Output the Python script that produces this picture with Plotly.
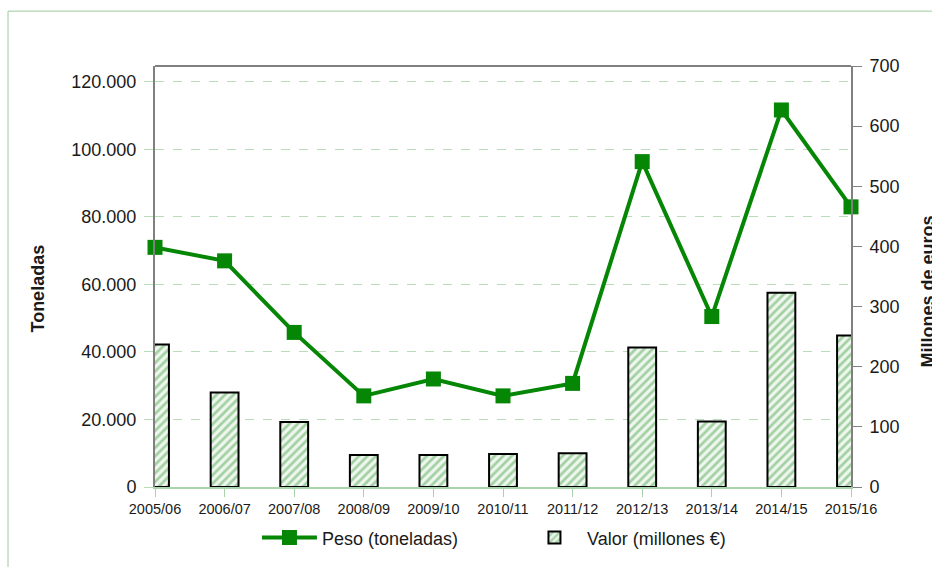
import plotly.graph_objects as go

categories = ["2005/06", "2006/07", "2007/08", "2008/09", "2009/10", "2010/11",
              "2011/12", "2012/13", "2013/14", "2014/15", "2015/16"]
peso_toneladas = [71000, 67000, 45800, 27000, 32000, 27000, 30700, 96400, 50500, 111700, 83000]
valor_millones = [237, 157, 108, 53, 53, 55, 56, 232, 109, 323, 252]

left_ticks = [0, 20000, 40000, 60000, 80000, 100000, 120000]
right_ticks = [0, 100, 200, 300, 400, 500, 600, 700]

GREEN = "#058605"
GRID = "#b9dcb9"
AXIS_GREY = "#808080"
TXT = "#1a1a1a"
FONT = "Liberation Sans, Arial, sans-serif"

fig = go.Figure()

fig.add_trace(go.Scatter(
    x=categories, y=peso_toneladas, name="Peso (toneladas)",
    mode="lines+markers", yaxis="y", cliponaxis=False,
    line=dict(color=GREEN, width=4),
    marker=dict(symbol="square", size=15, color=GREEN),
))

fig.add_trace(go.Bar(
    x=categories, y=valor_millones, name="Valor (millones €)",
    yaxis="y2", width=0.4,
    marker=dict(
        color="#e4f2e4",
        line=dict(color="black", width=2),
        pattern=dict(shape="/", fgcolor="#58aa58", bgcolor="#eef7ee", size=6, solidity=0.45),
    ),
))

fig.update_layout(
    width=932, height=567,
    margin=dict(l=155, r=81, t=66, b=79),
    paper_bgcolor="white", plot_bgcolor="white",
    separators=",.",
    font=dict(family=FONT, size=17, color=TXT),
    showlegend=True,
    legend=dict(orientation="h", x=0.1465, y=-0.118, xanchor="left", yanchor="middle",
                font=dict(size=18, color=TXT), entrywidth=195, entrywidthmode="pixels",
                traceorder="normal", itemwidth=55),
    xaxis=dict(
        type="category", range=[0, 10],
        showline=True, linecolor="#a9d3a9", linewidth=1.5,
        ticks="outside", ticklen=8, tickcolor="#a9d3a9",
        tickfont=dict(size=14.5, color=TXT), showgrid=False,
    ),
    yaxis=dict(
        range=[0, 124730], tickvals=left_ticks, tickformat=",d",
        showline=True, linecolor=AXIS_GREY, linewidth=2,
        ticks="outside", ticklen=9, tickcolor=GRID,
        showgrid=True, gridcolor=GRID, griddash="dash", gridwidth=1,
        zeroline=False, tickfont=dict(size=18, color=TXT), ticklabelstandoff=4,
    ),
    yaxis2=dict(
        range=[0, 700], tickvals=right_ticks, overlaying="y", side="right",
        showline=True, linecolor=AXIS_GREY, linewidth=2,
        ticks="outside", ticklen=9, tickcolor=AXIS_GREY,
        showgrid=False, zeroline=False, tickfont=dict(size=18, color=TXT), ticklabelstandoff=4,
    ),
    shapes=[
        dict(type="line", xref="paper", yref="paper", x0=0, x1=1, y0=1, y1=1,
             line=dict(color=AXIS_GREY, width=2)),
        dict(type="rect", xref="paper", yref="paper", x0=-0.2112, x1=1.19, y0=-0.22, y1=1.1303,
             line=dict(color="#9ccb9c", width=1)),
    ],
    annotations=[
        dict(text="<b>Toneladas</b>", xref="paper", yref="paper", x=-0.168, y=0.4716,
             textangle=-90, showarrow=False, font=dict(size=18, color=TXT),
             xanchor="center", yanchor="middle"),
        dict(text="<b>Millones de euros</b>", xref="paper", yref="paper", x=1.1106, y=0.4645,
             textangle=-90, showarrow=False, font=dict(size=18, color=TXT),
             xanchor="center", yanchor="middle"),
    ],
)

fig.write_html("out.html", config={"displayModeBar": False},
               post_script="document.body.style.margin='0px';")
